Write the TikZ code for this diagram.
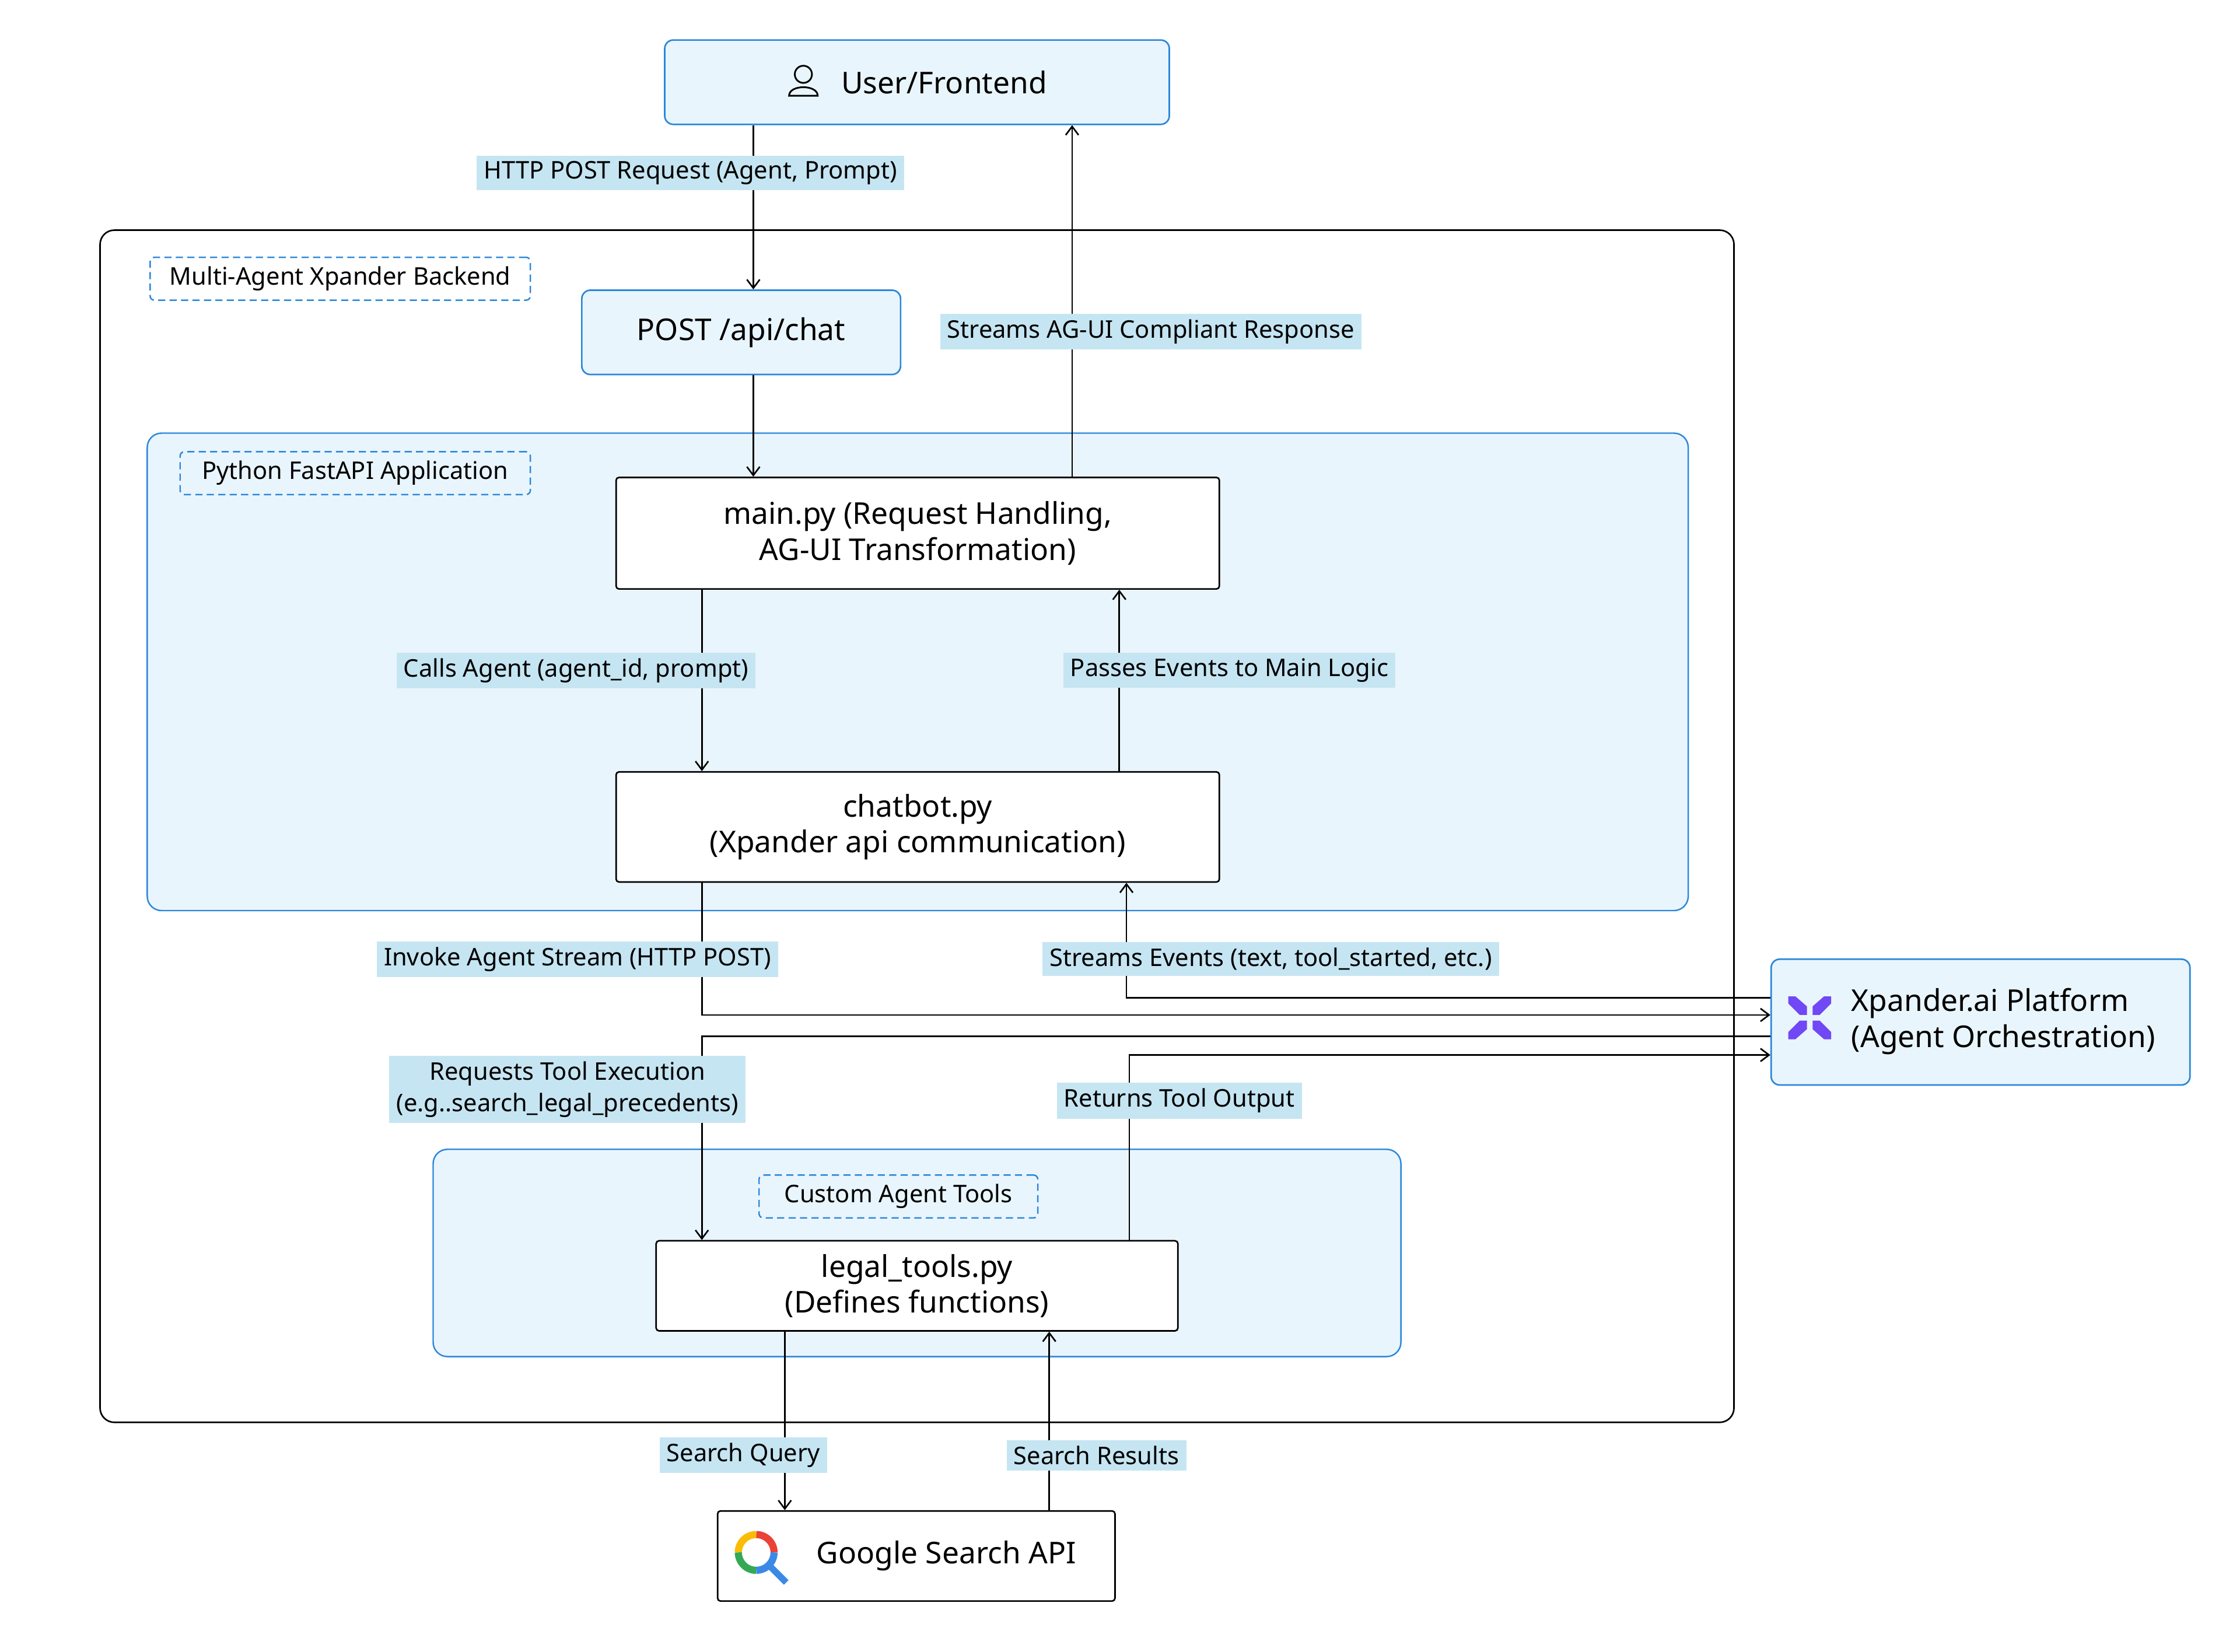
\documentclass[tikz,border=0pt]{standalone}
\usepackage{fontspec}
\setmainfont{Noto Sans}
\usetikzlibrary{arrows.meta}
\definecolor{bfill}{HTML}{E9F5FC}
\definecolor{bline}{HTML}{2B87DA}
\definecolor{lfill}{HTML}{C6E5F2}
\definecolor{xpurple}{HTML}{7048F5}
\definecolor{gred}{RGB}{234,67,53}
\definecolor{gyel}{RGB}{251,188,5}
\definecolor{ggrn}{RGB}{52,168,83}
\definecolor{gblu}{RGB}{59,137,230}
\begin{document}
\begin{tikzpicture}[x=1pt,y=-1pt,
  blue box/.style={draw=bline,fill=bfill,rounded corners=6pt,line width=1.1pt,font=\fontsize{21}{25}\selectfont,align=center,inner sep=0pt},
  white box/.style={draw=black,fill=white,rounded corners=2pt,line width=1.1pt,font=\fontsize{21}{25}\selectfont,align=center,inner sep=0pt},
  container/.style={draw=bline,fill=bfill,rounded corners=10pt,line width=1pt},
  tag/.style={draw=bline,dash pattern=on 5pt off 3pt,rounded corners=3pt,line width=1pt,font=\fontsize{17}{20}\selectfont,inner sep=0pt},
  lab/.style={fill=lfill,font=\fontsize{17}{20}\selectfont,inner xsep=5pt,inner ysep=4pt,align=center},
  conn/.style={line width=1.1pt,-{Straight Barb[length=6pt,width=9pt]}}]
\useasboundingbox (0,0) rectangle (1567,1155.3);
% containers
\node[draw=black,rounded corners=10pt,line width=1.1pt,minimum width=1143pt,minimum height=834pt,inner sep=0pt] (backend) at (641.5,578) {};
\node[container,minimum width=1078pt,minimum height=334pt,inner sep=0pt] (fastapi) at (642,470) {};
\node[container,minimum width=677pt,minimum height=145pt,inner sep=0pt] (tools) at (641.5,876.5) {};
\node[tag,minimum width=266pt,minimum height=30pt] (tagA) at (238,195) {Multi-Agent Xpander Backend};
\node[tag,minimum width=245pt,minimum height=30pt] (tagB) at (248.5,331) {Python FastAPI Application};
\node[tag,minimum width=195pt,minimum height=30pt] (tagC) at (628.5,837) {Custom Agent Tools};
% boxes
\node[blue box,minimum width=353pt,minimum height=59pt] (user) at (641.5,57.5) {\hspace*{38pt}User/Frontend};
\node[blue box,minimum width=223pt,minimum height=59pt] (post) at (518.5,232.5) {POST /api/chat};
\node[white box,minimum width=422pt,minimum height=78pt] (main) at (642,373) {main.py (Request Handling,\\AG-UI Transformation)};
\node[white box,minimum width=422pt,minimum height=77pt] (chat) at (642,578.5) {chatbot.py\\(Xpander api communication)};
\node[blue box,minimum width=293pt,minimum height=88pt] (xp) at (1385.5,715) {\hspace*{32pt}\begin{tabular}{@{}l@{}}Xpander.ai Platform\\(Agent Orchestration)\end{tabular}};
\node[white box,minimum width=365pt,minimum height=63pt] (legal) at (641.5,899.5) {legal\_tools.py\\(Defines functions)};
\node[white box,minimum width=278pt,minimum height=63pt] (google) at (641,1088.5) {\hspace*{42pt}Google Search API};
% icons
\draw[line width=1.2pt] (562,52) circle (6pt);
\draw[line width=1.2pt] (552,67) .. controls (552,59) and (572,59) .. (572,67) -- cycle;
\begin{scope}[shift={(1266,712)}]
\fill[xpurple] (-15,-15) -- (-10,-15) -- (-2,-8) -- (-2,-2) -- (-7,-2) -- (-15,-10) -- cycle;
\fill[xpurple] (15,-15) -- (10,-15) -- (2,-8) -- (2,-2) -- (7,-2) -- (15,-10) -- cycle;
\fill[xpurple] (-15,15) -- (-10,15) -- (-2,8) -- (-2,2) -- (-7,2) -- (-15,10) -- cycle;
\fill[xpurple] (15,15) -- (10,15) -- (2,8) -- (2,2) -- (7,2) -- (15,10) -- cycle;
\end{scope}
\draw[line width=4.5pt,gblu] (538,1095) -- (550,1107);
\draw[line width=5pt,gred] (529,1073.5) arc (90:0:12.5pt);
\draw[line width=5pt,gyel] (516.5,1086) arc (180:90:12.5pt);
\draw[line width=5pt,ggrn] (529,1098.5) arc (270:180:12.5pt);
\draw[line width=5pt,gblu] (541.5,1086) arc (0:-90:12.5pt);
% x-coordinates
\coordinate (xA) at (491,0);
\coordinate (xB) at (527,0);
\coordinate (xC) at (750,0);
\coordinate (xD) at (783,0);
\coordinate (xE) at (788,0);
\coordinate (xF) at (790,0);
\coordinate (xG) at (549,0);
\coordinate (xH) at (734,0);
\coordinate (y1) at (0,698);
\coordinate (y2) at (0,710);
\coordinate (y3) at (0,725);
\coordinate (y4) at (0,738);
% connectors
\draw[conn] (user.south -| xB) -- (post.north -| xB);
\draw[conn] (post.south -| xB) -- (main.north -| xB);
\draw[conn] (main.north -| xC) -- (user.south -| xC);
\draw[conn] (main.south -| xA) -- (chat.north -| xA);
\draw[conn] (chat.north -| xD) -- (main.south -| xD);
\draw[conn] (chat.south -| xA) |- (xp.west |- y2);
\draw[conn] (xp.west |- y1) -| (chat.south -| xE);
\draw[conn] (xp.west |- y3) -| (legal.north -| xA);
\draw[conn] (legal.north -| xF) |- (xp.west |- y4);
\draw[conn] (legal.south -| xG) -- (google.north -| xG);
\draw[conn] (google.north -| xH) -- (legal.south -| xH);
% labels
\node[lab] (l1) at (483,121) {HTTP POST Request (Agent, Prompt)};
\node[lab] (l2) at (805,232) {Streams AG-UI Compliant Response};
\node[lab] (l3) at (403,469) {Calls Agent (agent\_id, prompt)};
\node[lab] (l4) at (860,469) {Passes Events to Main Logic};
\node[lab] (l5) at (404,671) {Invoke Agent Stream (HTTP POST)};
\node[lab] (l6) at (889,671) {Streams Events (text, tool\_started, etc.)};
\node[lab,font=\fontsize{17}{22}\selectfont] (l7) at (397,762) {Requests Tool Execution\\(e.g..search\_legal\_precedents)};
\node[lab] (l8) at (825,770) {Returns Tool Output};
\node[lab] (l9) at (520,1018) {Search Query};
\node[lab] (l10) at (767,1018) {Search Results};
\end{tikzpicture}
\end{document}
